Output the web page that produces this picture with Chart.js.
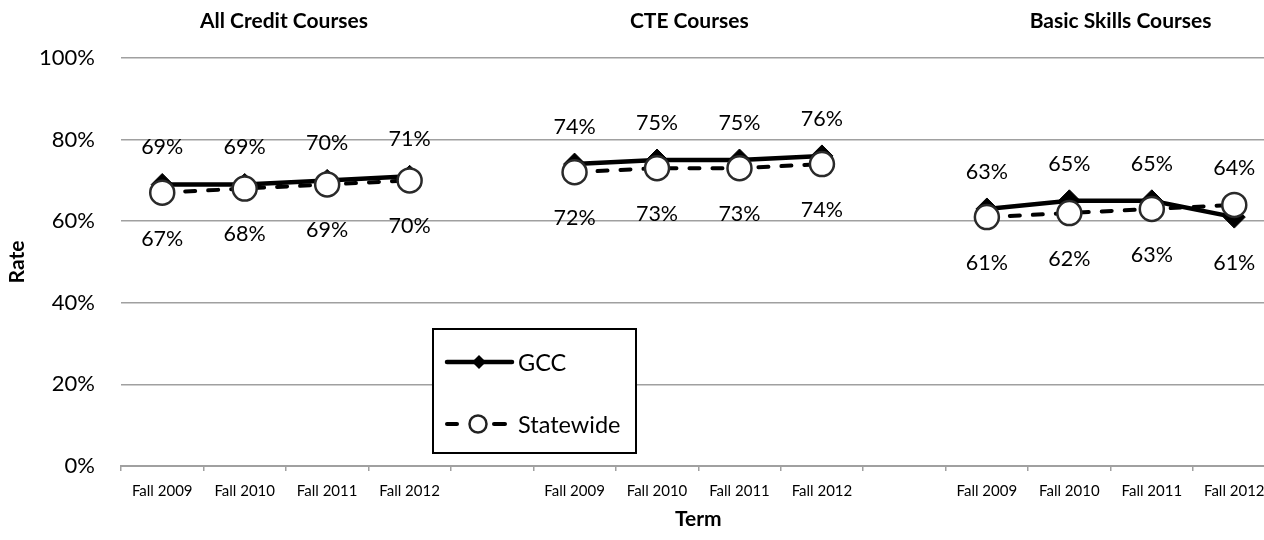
<!DOCTYPE html>
<html><head><meta charset="utf-8">
<script src="https://cdn.jsdelivr.net/npm/chart.js@4"></script>
<style>
html,body{margin:0;padding:0;background:#fff;overflow:hidden;width:1264px;height:540px}
#wrap{position:absolute;left:0;top:0;width:1290px;height:540px}
</style>
</head><body><div id="wrap"><canvas id="c" width="1290" height="540"></canvas></div>
<script>
const terms = ['Fall 2009','Fall 2010','Fall 2011','Fall 2012'];
const groupTitles = ['All Credit Courses','CTE Courses','Basic Skills Courses'];
const seriesNames = ['GCC','Statewide'];
const gccAllCredit = [69,69,70,71];
const swAllCredit  = [67,68,69,70];
const gccCTE = [74,75,75,76];
const swCTE  = [72,73,73,74];
const gccBasic = [63,65,65,61];
const swBasic  = [61,62,63,64];
const yTicks = [0,20,40,60,80,100];

const labels = [...terms, '', ...terms, '', ...terms];
const gcc = [...gccAllCredit, null, ...gccCTE, null, ...gccBasic];
const sw  = [...swAllCredit, null, ...swCTE, null, ...swBasic];

const FONT = 'Lato, "Open Sans", sans-serif';

const valueLabels = {
  id:'valueLabels',
  afterDatasetsDraw(chart){
    const {ctx, scales:{x,y}} = chart;
    ctx.save();
    ctx.font = '21.5px ' + FONT;
    ctx.fillStyle = '#000';
    ctx.textAlign = 'center';
    ctx.textBaseline = 'middle';
    for (let i = 0; i < gcc.length; i++) {
      if (gcc[i] == null) continue;
      const px = x.getPixelForValue(i);
      const hi = Math.max(gcc[i], sw[i]);
      const lo = Math.min(gcc[i], sw[i]);
      ctx.fillText(Math.round(hi) + '%', px, y.getPixelForValue(hi) - 37);
      ctx.fillText(Math.round(lo) + '%', px, y.getPixelForValue(lo) + 46);
    }
    ctx.restore();
  }
};

const groupTitlePlugin = {
  id:'groupTitles',
  afterDraw(chart){
    const {ctx, scales:{x}} = chart;
    const shifts = [-2, -9, 10];
    ctx.save();
    ctx.font = 'bold 21px ' + FONT;
    ctx.fillStyle = '#000';
    ctx.textAlign = 'center';
    ctx.textBaseline = 'middle';
    groupTitles.forEach((t, g) => {
      const px = x.getPixelForValue(g * 5 + 1.5) + shifts[g];
      ctx.fillText(t, px, 21);
    });
    ctx.restore();
  }
};

const legendPlugin = {
  id:'customLegend',
  afterDraw(chart){
    const ctx = chart.ctx;
    ctx.save();
    ctx.fillStyle = '#fff';
    ctx.fillRect(433, 329, 203, 124);
    ctx.lineWidth = 2;
    ctx.strokeStyle = '#000';
    ctx.strokeRect(433, 329, 203, 124);
    const y1 = 362, y2 = 424;
    ctx.lineWidth = 4.5;
    ctx.lineCap = 'round';
    ctx.beginPath(); ctx.moveTo(447, y1); ctx.lineTo(512, y1); ctx.stroke();
    ctx.fillStyle = '#000';
    ctx.beginPath();
    ctx.moveTo(479 - 7, y1); ctx.lineTo(479, y1 - 7); ctx.lineTo(479 + 7, y1); ctx.lineTo(479, y1 + 7);
    ctx.closePath(); ctx.fill();
    ctx.lineWidth = 4;
    ctx.beginPath(); ctx.moveTo(447, y2); ctx.lineTo(457, y2); ctx.stroke();
    ctx.beginPath(); ctx.moveTo(494, y2); ctx.lineTo(505, y2); ctx.stroke();
    ctx.beginPath(); ctx.arc(478, y2, 8.5, 0, Math.PI * 2);
    ctx.fillStyle = '#fff'; ctx.fill();
    ctx.lineWidth = 2.5; ctx.strokeStyle = '#222'; ctx.stroke();
    ctx.fillStyle = '#000';
    ctx.font = '23.5px ' + FONT;
    ctx.textAlign = 'left';
    ctx.textBaseline = 'middle';
    ctx.fillText(seriesNames[0], 518, y1 + 1);
    ctx.fillText(seriesNames[1], 518, y2 + 1);
    ctx.restore();
  }
};

new Chart(document.getElementById('c'), {
  type:'line',
  data:{
    labels,
    datasets:[
      {label:seriesNames[0], data:gcc, borderColor:'#000', borderWidth:4.5, tension:0,
       pointStyle:'rectRot', pointRadius:11, pointBackgroundColor:'#000', pointBorderColor:'#000',
       pointBorderWidth:1, spanGaps:false, order:1},
      {label:seriesNames[1], data:sw, borderColor:'#000', borderWidth:4, tension:0,
       borderDash:[10,13], borderCapStyle:'round',
       pointStyle:'circle', pointRadius:12, pointBackgroundColor:'#fff', pointBorderColor:'#2a2a2a',
       pointBorderWidth:2.5, spanGaps:false, order:0}
    ]
  },
  options:{
    responsive:false, animation:false, devicePixelRatio:1,
    layout:{padding:{top:58, right:11, left:0, bottom:0}},
    plugins:{legend:{display:false}, tooltip:{enabled:false}},
    scales:{
      x:{
        offset:true,
        grid:{offset:true, drawOnChartArea:false, drawTicks:true, tickLength:5, color:'#a0a0a0', lineWidth:1.5},
        border:{color:'#a0a0a0', width:2},
        ticks:{autoSkip:false, maxRotation:0, minRotation:0, font:{family:FONT, size:15}, color:'#000', padding:11},
        title:{display:true, text:'Term', font:{family:FONT, size:21, weight:'bold'}, color:'#000', padding:{top:4, bottom:8}},
        afterFit(s){ s.height = 74; }
      },
      y:{
        min:0, max:100,
        afterBuildTicks(s){ s.ticks = yTicks.map(v => ({value:v})); },
        ticks:{callback:v => v + '%', font:{family:FONT, size:22}, color:'#000', padding:26},
        grid:{color:'#a0a0a0', lineWidth:1.5, drawTicks:false},
        border:{display:false},
        title:{display:true, text:'Rate', font:{family:FONT, size:21, weight:'bold'}, color:'#000', padding:{top:5, bottom:0}},
        afterFit(s){ s.width = 121; }
      }
    }
  },
  plugins:[valueLabels, groupTitlePlugin, legendPlugin]
});
</script>
</body></html>
